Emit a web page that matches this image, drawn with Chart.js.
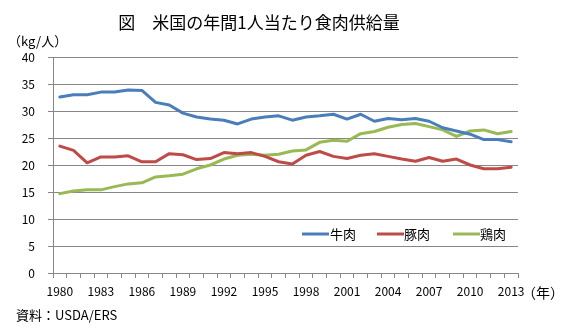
<!DOCTYPE html>
<html><head><meta charset="utf-8">
<script src="https://cdn.jsdelivr.net/npm/chart.js@4"></script>
<style>
html,body{margin:0;padding:0;background:#fff;}
#wrap{position:relative;width:573px;height:332px;font-family:"Noto Sans CJK JP","Noto Sans",sans-serif;color:#000;}
canvas{position:absolute;left:0;top:0;}
.t{position:absolute;white-space:nowrap;line-height:1;}
</style></head>
<body>
<div id="wrap">
<canvas id="c" width="573" height="332"></canvas>
<div class="t" id="title" style="left:0;width:518px;text-align:center;top:13px;font-size:17px;">図　米国の年間1人当たり食肉供給量</div>
<div class="t" style="left:8px;top:34px;font-size:13px;">（kg/人）</div>
<div class="t" style="left:522px;top:285px;font-size:14px;">（年）</div>
<div class="t" style="left:16px;top:308px;font-size:13px;">資料：USDA/ERS</div>
</div>
<script>
const years = [1980,1981,1982,1983,1984,1985,1986,1987,1988,1989,1990,1991,1992,1993,1994,1995,1996,1997,1998,1999,2000,2001,2002,2003,2004,2005,2006,2007,2008,2009,2010,2011,2012,2013];
const beef = [32.6,33.0,33.0,33.5,33.5,33.9,33.8,31.6,31.1,29.6,28.9,28.5,28.3,27.6,28.5,28.9,29.1,28.3,28.9,29.1,29.4,28.5,29.4,28.1,28.6,28.4,28.6,28.1,26.9,26.3,25.7,24.7,24.7,24.3];
const pork = [23.5,22.7,20.4,21.5,21.5,21.7,20.6,20.6,22.1,21.9,21.0,21.2,22.3,22.1,22.3,21.6,20.6,20.2,21.8,22.5,21.6,21.2,21.8,22.1,21.6,21.1,20.7,21.4,20.7,21.1,20.0,19.3,19.3,19.6];
const chicken = [14.7,15.2,15.4,15.4,16.0,16.5,16.7,17.8,18.0,18.3,19.3,20.0,21.1,21.8,22.0,21.8,22.0,22.6,22.8,24.2,24.6,24.4,25.8,26.2,27.0,27.5,27.7,27.1,26.5,25.3,26.3,26.5,25.8,26.2];
const seriesNames = ['牛肉','豚肉','鶏肉'];
const seriesColors = ['#4A7EBB','#BE4B48','#98B954'];
const yTicks = {min:0, max:40, step:5};
const FONT = '"Noto Sans CJK JP","Noto Sans",sans-serif';
const GRID = '#878787';

const legendPlugin = {
  id:'customLegend',
  afterDraw(chart){
    const ctx = chart.ctx;
    const items = [[302,330],[377,404],[453,480]];
    ctx.save();
    ctx.font = '13px ' + FONT;
    ctx.textBaseline = 'middle';
    chart.data.datasets.forEach((ds,i)=>{
      const [x0,tx] = items[i];
      const y = 234;
      ctx.strokeStyle = ds.borderColor;
      ctx.lineWidth = 3;
      ctx.beginPath(); ctx.moveTo(x0,y); ctx.lineTo(x0+27,y); ctx.stroke();
      ctx.fillStyle = '#000';
      ctx.fillText(ds.label, tx, y);
    });
    ctx.restore();
  }
};

new Chart(document.getElementById('c'), {
  type:'line',
  data:{
    labels: years.map(String),
    datasets:[
      {label:seriesNames[0], data:beef, borderColor:seriesColors[0]},
      {label:seriesNames[1], data:pork, borderColor:seriesColors[1]},
      {label:seriesNames[2], data:chicken, borderColor:seriesColors[2]}
    ].map(d=>Object.assign(d,{borderWidth:3, pointRadius:0, tension:0, fill:false, borderJoinStyle:'round', borderCapStyle:'round'}))
  },
  options:{
    responsive:false, animation:false,
    layout:{padding:{left:0,right:55,top:57,bottom:28}},
    plugins:{legend:{display:false}, title:{display:false}, tooltip:{enabled:false}},
    scales:{
      x:{
        offset:true,
        grid:{display:true, offset:true, drawOnChartArea:false, drawTicks:true, tickLength:5, color:GRID, tickColor:GRID},
        border:{display:true, color:GRID, width:1},
        ticks:{autoSkip:false, maxRotation:0, minRotation:0, padding:6, color:'#000', font:{family:FONT, size:12},
          callback:function(v,i){ return i%3===0 ? years[i] : ''; }},
        afterFit(s){ s.height = 31; }
      },
      y:{
        min:yTicks.min, max:yTicks.max,
        grid:{color:GRID, tickLength:5, tickColor:GRID, lineWidth:1},
        border:{display:true, color:GRID, width:1},
        ticks:{stepSize:yTicks.step, padding:13, color:'#000', font:{family:FONT, size:12}},
        afterFit(s){ s.width = 53; }
      }
    }
  },
  plugins:[legendPlugin]
});
</script>
</body></html>
